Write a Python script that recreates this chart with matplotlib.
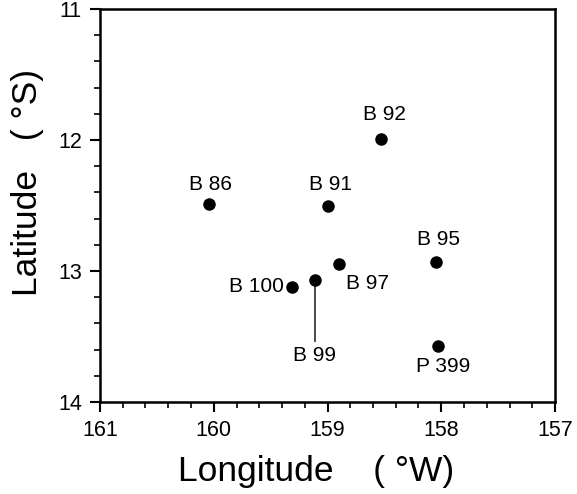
import matplotlib
matplotlib.use("Agg")
import matplotlib.pyplot as plt
from matplotlib.ticker import MultipleLocator

plt.rcParams['font.family'] = ['Liberation Sans', 'DejaVu Sans']

stations = ["B 86", "B 91", "B 92", "B 95", "B 97", "B 99", "B 100", "P 399"]
lon = [160.04, 159.00, 158.53, 158.05, 158.90, 159.11, 159.31, 158.03]
lat = [12.49, 12.50, 11.99, 12.93, 12.95, 13.07, 13.12, 13.57]

# label offsets in pixels (dx, dy) and alignment
offsets = {
    "B 86": (1, 20, 'center'),
    "B 91": (3, 21, 'center'),
    "B 92": (3, 24, 'center'),
    "B 95": (3, 22, 'center'),
    "B 97": (29, -19, 'center'),
    "B 99": (0, -75, 'center'),
    "B 100": (-8, 0, 'right'),
    "P 399": (5, -21, 'center'),
}

fig = plt.figure(figsize=(5.77, 4.94), dpi=100)
ax = fig.add_axes([100/577, 1-402/494, 455/577, 393/494])

ax.plot(lon, lat, 'o', color='black', markersize=8, zorder=3)

for name, x, y in zip(stations, lon, lat):
    dx, dy, ha = offsets[name]
    kw = {}
    if name == "B 99":
        kw['arrowprops'] = dict(arrowstyle='-', color='black', lw=1.0,
                                shrinkA=1, shrinkB=0, relpos=(0.5, 1.0))
    ax.annotate(name, (x, y), xytext=(dx, dy), textcoords='offset pixels',
                ha=ha, va='center', fontsize=15, **kw)

ax.set_xlim(161, 157)
ax.set_ylim(14, 11)
ax.xaxis.set_major_locator(MultipleLocator(1))
ax.xaxis.set_minor_locator(MultipleLocator(0.2))
ax.yaxis.set_major_locator(MultipleLocator(1))
ax.yaxis.set_minor_locator(MultipleLocator(0.2))
ax.tick_params(which='major', direction='out', length=7, width=1.5,
               labelsize=15.5, pad=6)
ax.tick_params(which='minor', direction='out', length=4, width=1.2)
for s in ax.spines.values():
    s.set_linewidth(1.8)

ax.set_xlabel("Longitude    ( °W)", fontsize=25.5, va='center')
ax.xaxis.set_label_coords(316/455 - 100/455, (402-471)/393)
ax.set_ylabel("Latitude   ( °S)", fontsize=25.5, va='center')
ax.yaxis.set_label_coords((28-100)/455, (402-182)/393)

fig.savefig("out.png", dpi=100)
